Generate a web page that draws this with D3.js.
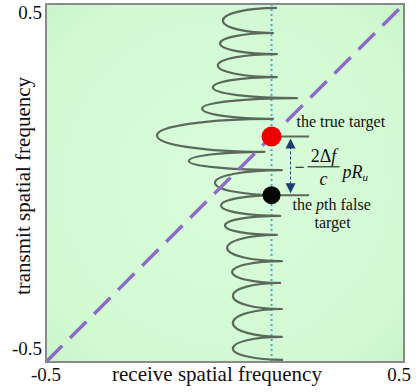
<!DOCTYPE html>
<html>
<head>
<meta charset="utf-8">
<script src="https://cdn.jsdelivr.net/npm/d3@7"></script>
<style>
  html, body { margin: 0; padding: 0; background: #ffffff; }
  svg { display: block; }
  text { font-family: "Liberation Serif", "Times New Roman", serif; fill: #111; }
</style>
</head>
<body>
<div id="chart"></div>
<script>
// Axis ticks (spatial frequency, normalised)
const xTicks = [-0.5, 0.5];
const yTicks = [-0.5, 0.5];

// Coil of the ambiguity response: right-side junctions (transmit freq, receive freq)
const junctionTransmit = [0.489, 0.419, 0.360, 0.296, 0.237, 0.179, 0.087, 0.036,
                          -0.034, -0.092, -0.145, -0.218, -0.279, -0.352, -0.430, -0.494];
const junctionReceive  = [0.145, 0.134, 0.145, 0.145, 0.201, 0.134, 0.110, 0.159,
                          0.148, 0.154, 0.145, 0.159, 0.154, 0.159, 0.159, 0.162];
// Leftmost receive frequency reached by each loop between two junctions
const loopLeft = [-0.006, -0.014, -0.020, -0.034, -0.064, -0.190, -0.101, -0.028,
                  -0.011, 0.000, 0.006, 0.020, 0.022, 0.022, 0.022];

// Targets
const targetReceive = 0.13;
const trueTransmit = 0.13;
const falseTransmit = -0.034;
// Reference diagonal (receive = transmit)
const diagonal = [[-0.5, -0.5], [0.5, 0.5]];

const W = 418, H = 392;
const svg = d3.select("#chart").append("svg").attr("width", W).attr("height", H);

const x = d3.scaleLinear().domain([-0.5, 0.5]).range([46, 404]);
const y = d3.scaleLinear().domain([-0.5, 0.5]).range([362, 4]);

// Background with soft mint fill
const defs = svg.append("defs");
const grad = defs.append("radialGradient").attr("id", "bg")
  .attr("cx", "50%").attr("cy", "50%").attr("r", "72%");
grad.append("stop").attr("offset", "0%").attr("stop-color", "#dafddb");
grad.append("stop").attr("offset", "80%").attr("stop-color", "#d1f9d2");
grad.append("stop").attr("offset", "100%").attr("stop-color", "#c8f4c9");

svg.append("rect")
  .attr("x", x(-0.5)).attr("y", y(0.5))
  .attr("width", x(0.5) - x(-0.5)).attr("height", y(-0.5) - y(0.5))
  .attr("fill", "url(#bg)");

// Vertical dotted line at the target receive frequency
svg.append("line")
  .attr("x1", x(targetReceive)).attr("x2", x(targetReceive))
  .attr("y1", y(0.5)).attr("y2", y(-0.5))
  .attr("stroke", "#4fa9cf").attr("stroke-width", 2)
  .attr("stroke-dasharray", "2,3");

// Coil: half-ellipse loops joined at the right-hand junctions
const k = 0.56;
const p = d3.path();
p.moveTo(x(junctionReceive[0]), y(junctionTransmit[0]));
loopLeft.forEach((lf, i) => {
  const x1 = x(junctionReceive[i]), y1 = y(junctionTransmit[i]);
  const x2 = x(junctionReceive[i + 1]), y2 = y(junctionTransmit[i + 1]);
  const xl = x(lf), ym = (y1 + y2) / 2;
  const h1 = ym - y1, h2 = y2 - ym;
  p.bezierCurveTo(x1 - k * (x1 - xl), y1, xl, ym - k * h1, xl, ym);
  p.bezierCurveTo(xl, ym + k * h2, x2 - k * (x2 - xl), y2, x2, y2);
});
svg.append("path").attr("d", p.toString())
  .attr("fill", "none").attr("stroke", "#5a695a").attr("stroke-width", 2.2)
  .attr("stroke-linejoin", "round");

// Diagonal dashed line
svg.append("line")
  .attr("x1", x(diagonal[0][0])).attr("y1", y(diagonal[0][1]))
  .attr("x2", x(diagonal[1][0])).attr("y2", y(diagonal[1][1]))
  .attr("stroke", "#8d6cc8").attr("stroke-width", 3.5)
  .attr("stroke-dasharray", "23,11");

// Annotation leader lines
const leadEnd = targetReceive + 0.105;
[trueTransmit, falseTransmit].forEach(t => {
  svg.append("line")
    .attr("x1", x(targetReceive)).attr("x2", x(leadEnd))
    .attr("y1", y(t)).attr("y2", y(t))
    .attr("stroke", "#5a695a").attr("stroke-width", 2);
});

// Frame
svg.append("rect")
  .attr("x", x(-0.5)).attr("y", y(0.5))
  .attr("width", x(0.5) - x(-0.5)).attr("height", y(-0.5) - y(0.5))
  .attr("fill", "none").attr("stroke", "#8a8a8a").attr("stroke-width", 2);

// Target markers
svg.append("circle").attr("cx", x(targetReceive)).attr("cy", y(trueTransmit))
  .attr("r", 10).attr("fill", "#ee0000");
svg.append("circle").attr("cx", x(targetReceive)).attr("cy", y(falseTransmit))
  .attr("r", 9).attr("fill", "#050505");

// Double arrow between the two targets
const ax = x(targetReceive) + 19;
const yT = y(trueTransmit), yF = y(falseTransmit);
const navy = "#1c3c6e";
svg.append("line").attr("x1", ax).attr("x2", ax)
  .attr("y1", yT + 10).attr("y2", yF - 10)
  .attr("stroke", navy).attr("stroke-width", 1).attr("stroke-dasharray", "3,2");
svg.append("path")
  .attr("d", `M${ax},${yT + 2} L${ax - 5},${yT + 12} L${ax + 5},${yT + 12} Z`)
  .attr("fill", navy);
svg.append("path")
  .attr("d", `M${ax},${yF - 2} L${ax - 5},${yF - 12} L${ax + 5},${yF - 12} Z`)
  .attr("fill", navy);

// Labels
svg.append("text").attr("x", x(targetReceive) + 25).attr("y", yT - 9)
  .attr("font-size", 16).text("the true target");

// Range offset formula:  − (2Δf / c) pR_u
const fx0 = x(targetReceive) + 23;
const fyBar = (yT + yF) / 2 + 1;
svg.append("text").attr("x", fx0).attr("y", fyBar + 6)
  .attr("font-size", 18).text("\u2212");
svg.append("line").attr("x1", fx0 + 13).attr("x2", fx0 + 45)
  .attr("y1", fyBar).attr("y2", fyBar).attr("stroke", "#111").attr("stroke-width", 1);
const num = svg.append("text").attr("x", fx0 + 29).attr("y", fyBar - 5)
  .attr("font-size", 18).attr("text-anchor", "middle");
num.append("tspan").text("2\u0394");
num.append("tspan").attr("font-style", "italic").text("f");
svg.append("text").attr("x", fx0 + 29).attr("y", fyBar + 18)
  .attr("font-size", 18).attr("text-anchor", "middle")
  .attr("font-style", "italic").text("c");
const pr = svg.append("text").attr("x", fx0 + 48).attr("y", fyBar + 11)
  .attr("font-size", 18).attr("font-style", "italic");
pr.append("tspan").text("pR");
pr.append("tspan").attr("font-size", 11).attr("dy", 3).text("u");

const fl = svg.append("text").attr("x", x(targetReceive) + 21).attr("y", yF + 15)
  .attr("font-size", 16);
fl.append("tspan").text("the ");
fl.append("tspan").attr("font-style", "italic").text("p");
fl.append("tspan").text("th false");
svg.append("text").attr("x", x(targetReceive) + 61).attr("y", yF + 33)
  .attr("font-size", 16).attr("text-anchor", "middle").text("target");

// Tick labels
svg.selectAll(".ytick").data(yTicks).join("text")
  .attr("class", "ytick")
  .attr("x", 42).attr("text-anchor", "end")
  .attr("y", d => y(d) + (d > 0 ? 15 : -7))
  .attr("font-size", 19)
  .text(d => d3.format(".1f")(d).replace("\u2212", "-"));
svg.selectAll(".xtick").data(xTicks).join("text")
  .attr("class", "xtick")
  .attr("x", d => x(d) + (d > 0 ? -5 : 0)).attr("text-anchor", "middle")
  .attr("y", 381)
  .attr("font-size", 19)
  .text(d => d3.format(".1f")(d).replace("\u2212", "-"));

// Axis titles
svg.append("text").attr("x", 217).attr("y", 381)
  .attr("text-anchor", "middle").attr("font-size", 21)
  .text("receive spatial frequency");
svg.append("text").attr("transform", "translate(30,186) rotate(-90)")
  .attr("text-anchor", "middle").attr("font-size", 21)
  .text("transmit spatial frequency");
</script>
</body>
</html>
